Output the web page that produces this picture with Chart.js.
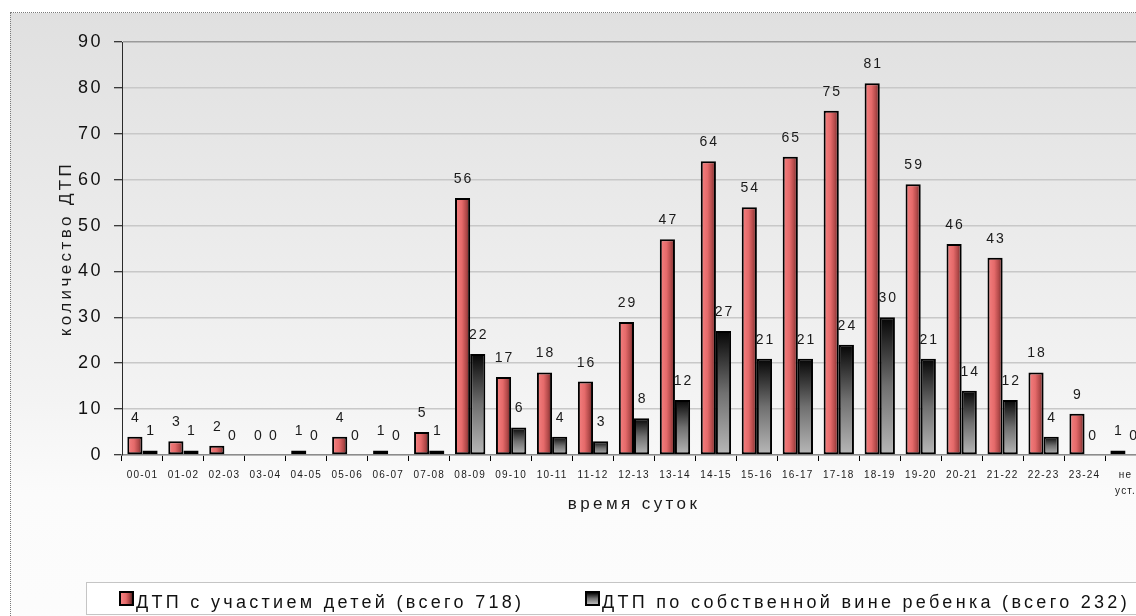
<!DOCTYPE html>
<html lang="ru">
<head>
<meta charset="utf-8">
<title>ДТП с участием детей по времени суток</title>
<script src="https://cdn.jsdelivr.net/npm/chart.js@4.4.1/dist/chart.umd.min.js"></script>
<style>
  html, body { margin: 0; padding: 0; width: 1136px; height: 616px; overflow: hidden; background: #fff; }
  #frame {
    position: absolute; left: 10px; top: 12px; width: 1200px; height: 700px;
    border: 1px dotted #7a7a7a;
    background: linear-gradient(to bottom, #e0e0e0 0px, #f3f3f3 380px, #fbfbfb 480px, #fdfdfd 100%);
  }
  #chart { position: absolute; left: 0; top: 0; }
</style>
</head>
<body>
<div id="frame"></div>
<canvas id="chart" width="1160" height="616"></canvas>
<script>
// Time-of-day buckets (the last one: time not established)
const hours = ['00-01', '01-02', '02-03', '03-04', '04-05', '05-06', '06-07', '07-08',
  '08-09', '09-10', '10-11', '11-12', '12-13', '13-14', '14-15', '15-16', '16-17',
  '17-18', '18-19', '19-20', '20-21', '21-22', '22-23', '23-24', ['не', 'уст.']];

// Crashes involving children, per hour
const childCrashes = [4, 3, 2, 0, 1, 4, 1, 5, 56, 17, 18, 16, 29, 47, 64, 54, 65, 75, 81, 59, 46, 43, 18, 9, 1];

// Crashes caused by the child, per hour
const childFault = [1, 1, 0, 0, 0, 0, 0, 1, 22, 6, 4, 3, 8, 12, 27, 21, 21, 24, 30, 21, 14, 12, 4, 0, 0];

const seriesNames = ['ДТП с участием детей (всего 718)', 'ДТП по собственной вине ребенка (всего 232)'];

const yMin = 0, yMax = 90, yStep = 10;
const yTitle = 'количество ДТП';
const xTitle = 'время суток';

const FONT = '"Liberation Sans", Arial, sans-serif';
const CATEGORY_PCT = 0.74;

// Fills for the two series
function redFill(ctx, left, right) {
  const g = ctx.createLinearGradient(left, 0, right, 0);
  g.addColorStop(0, '#f58282');
  g.addColorStop(0.45, '#e56a6a');
  g.addColorStop(0.75, '#b04848');
  g.addColorStop(1, '#5e2424');
  return g;
}
function greyFill(ctx, top, bottom) {
  const g = ctx.createLinearGradient(0, top, 0, bottom);
  g.addColorStop(0, '#050505');
  g.addColorStop(0.5, '#707070');
  g.addColorStop(1, '#b8b8b8');
  return g;
}

// Red bars: horizontal shading across each bar
function redBarColor(c) {
  const chart = c.chart;
  if (!chart.chartArea || !chart.scales.x) return '#e56a6a';
  const xs = chart.scales.x;
  const barW = xs.width / hours.length * CATEGORY_PCT / 2;
  const center = xs.getPixelForValue(c.dataIndex);
  return redFill(chart.ctx, center - barW, center);
}
// Grey bars: vertical shading from dark top to light bottom
function greyBarColor(c) {
  const chart = c.chart;
  if (!chart.chartArea || !chart.scales.y) return '#707070';
  const ys = chart.scales.y;
  const top = ys.getPixelForValue(c.raw);
  const bottom = ys.getPixelForValue(0);
  return greyFill(chart.ctx, top, bottom === top ? top + 1 : bottom);
}

// Letter spacing per scale (canvas letterSpacing applied around the scale's text drawing)
const spacing = {
  x: { labels: '1.2px', title: '3.4px' },
  y: { labels: '2.5px', title: '3.4px' }
};
const spacedText = {
  id: 'spacedText',
  beforeDraw(chart) {
    Object.values(chart.scales).forEach(scale => {
      const cfg = spacing[scale.id];
      if (!cfg || scale.$spaced) return;
      scale.$spaced = true;
      const drawLabels = scale.drawLabels, drawTitle = scale.drawTitle;
      scale.drawLabels = function (area) {
        this.ctx.save(); this.ctx.letterSpacing = cfg.labels;
        drawLabels.call(this, area); this.ctx.restore();
      };
      scale.drawTitle = function (area) {
        this.ctx.save(); this.ctx.letterSpacing = cfg.title;
        drawTitle.call(this, area); this.ctx.restore();
      };
    });
  }
};

// Value labels above each bar
const valueLabels = {
  id: 'valueLabels',
  afterDatasetsDraw(chart) {
    const ctx = chart.ctx;
    ctx.save();
    ctx.font = '14px ' + FONT;
    ctx.letterSpacing = '2px';
    ctx.fillStyle = '#1a1a1a';
    ctx.textAlign = 'center';
    ctx.textBaseline = 'alphabetic';
    chart.data.datasets.forEach((ds, di) => {
      chart.getDatasetMeta(di).data.forEach((bar, i) => {
        ctx.fillText(String(ds.data[i]), bar.x + 1, bar.y - 15);
      });
    });
    ctx.restore();
  }
};

// Framed legend under the plot
const boxLegend = {
  id: 'boxLegend',
  afterDraw(chart) {
    const ctx = chart.ctx;
    const itemX = [119, 585];
    const boxTop = 591, boxSize = 15, baseline = 608;
    ctx.save();
    ctx.fillStyle = '#ffffff';
    ctx.fillRect(86, 582, 1100, 33);
    ctx.setLineDash([1, 1]);
    ctx.strokeStyle = '#8a8a8a';
    ctx.lineWidth = 1;
    ctx.strokeRect(86.5, 582.5, 1100, 32);
    ctx.setLineDash([]);
    ctx.font = '18px ' + FONT;
    ctx.letterSpacing = '3.3px';
    ctx.textBaseline = 'alphabetic';
    chart.data.datasets.forEach((ds, i) => {
      const x = itemX[i];
      ctx.fillStyle = '#000';
      ctx.fillRect(x, boxTop, boxSize, boxSize);
      ctx.fillStyle = i === 0
        ? redFill(ctx, x + 2, x + boxSize - 2)
        : greyFill(ctx, boxTop + 2, boxTop + boxSize - 2);
      ctx.fillRect(x + 2, boxTop + 2, boxSize - 4, boxSize - 4);
      ctx.fillStyle = '#111';
      ctx.fillText(ds.label, x + boxSize + 2, baseline);
    });
    ctx.restore();
  }
};

new Chart(document.getElementById('chart'), {
  type: 'bar',
  data: {
    labels: hours,
    datasets: [
      {
        label: seriesNames[0],
        data: childCrashes,
        backgroundColor: redBarColor,
        borderColor: '#000',
        borderWidth: c => (c.raw === 0 ? 0 : 2),
        borderSkipped: false,
        categoryPercentage: CATEGORY_PCT,
        barPercentage: 1
      },
      {
        label: seriesNames[1],
        data: childFault,
        backgroundColor: greyBarColor,
        borderColor: '#000',
        borderWidth: c => (c.raw === 0 ? 0 : 2),
        borderSkipped: false,
        categoryPercentage: CATEGORY_PCT,
        barPercentage: 1
      }
    ]
  },
  options: {
    responsive: false,
    animation: false,
    devicePixelRatio: 1,
    layout: { padding: { left: 0, top: 42, right: 14, bottom: 101 } },
    plugins: {
      legend: { display: false },
      tooltip: { enabled: false }
    },
    scales: {
      x: {
        afterFit: s => { s.height = 60; },
        grid: {
          offset: true,
          drawOnChartArea: false,
          drawTicks: true,
          tickLength: 6,
          tickColor: '#000',
          tickWidth: 1
        },
        border: { display: true, color: '#8c8c8c', width: 1.5 },
        ticks: {
          autoSkip: false,
          maxRotation: 0,
          minRotation: 0,
          padding: 6,
          color: '#1a1a1a',
          font: { family: FONT, size: 10, lineHeight: 1.6 }
        },
        title: {
          display: true,
          text: xTitle,
          color: '#1a1a1a',
          font: { family: FONT, size: 17 },
          padding: { top: 0, bottom: 0 }
        }
      },
      y: {
        min: yMin,
        max: yMax,
        afterFit: s => { s.width = 122; },
        grid: {
          color: c => (c.tick && c.tick.value === yMax ? '#9a9a9a' : '#c8c8c8'),
          lineWidth: 1.5,
          drawTicks: true,
          tickLength: 8,
          tickColor: '#000',
          tickWidth: 1
        },
        border: { display: true, color: '#2a2a2a', width: 1 },
        ticks: {
          stepSize: yStep,
          padding: 11,
          color: '#111',
          font: { family: FONT, size: 18 }
        },
        title: {
          display: true,
          text: yTitle,
          color: '#1a1a1a',
          font: { family: FONT, size: 17 },
          padding: { top: 56, bottom: 0 }
        }
      }
    }
  },
  plugins: [spacedText, valueLabels, boxLegend]
});
</script>
</body>
</html>
